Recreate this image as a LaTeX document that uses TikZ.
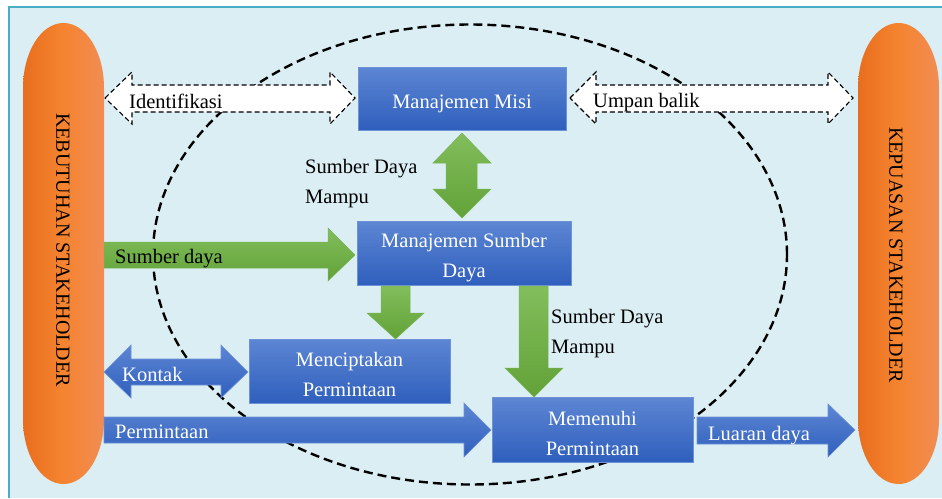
\documentclass[tikz,border=0pt]{standalone}
\usepackage{fontspec}
\setmainfont{Liberation Serif}
\definecolor{bgc}{RGB}{219,238,244}
\definecolor{bordc}{RGB}{75,172,198}
\definecolor{boxline}{RGB}{110,145,215}
\definecolor{bluetop}{RGB}{93,134,211}
\definecolor{bluebot}{RGB}{47,95,189}
\definecolor{greenline}{RGB}{120,180,85}
\definecolor{greentop}{RGB}{130,190,92}
\definecolor{greenbot}{RGB}{98,162,56}
\definecolor{orL}{RGB}{232,110,30}
\definecolor{orM}{RGB}{245,132,48}
\definecolor{orR}{RGB}{241,140,84}
\begin{document}
\begin{tikzpicture}[x=1pt,y=-1pt,
  txt/.style={font=\fontsize{20.5}{30}\selectfont, inner sep=0pt},
  vtxt/.style={font=\fontsize{20}{24}\selectfont, inner sep=0pt, rotate=-90},
  bluebox/.style={draw=boxline, line width=0.8pt,
     top color=bluetop, bottom color=bluebot, inner sep=0pt},
  boxtext/.style={text=white, inner sep=0pt, align=center, font=\fontsize{20.5}{30}\selectfont},
  bluearrow/.style={draw=boxline, line width=0.6pt, top color=bluetop, bottom color=bluebot},
  greenarrow/.style={draw=greenline, line width=0.5pt, top color=greentop, bottom color=greenbot},
  whitearrow/.style={draw=black, fill=white, line width=1.1pt, dash pattern=on 5pt off 3pt},
  oval/.style={left color=orL, right color=orR, middle color=orM},
]
\useasboundingbox (0,0) rectangle (942,498);
% background
\fill[white] (0,0) rectangle (942,498);
\fill[bgc] (9,7) rectangle (942,498);
\draw[bordc, line width=1.5pt] (9,498) -- (9,7) -- (942,7);

% dashed ellipse
\draw[black, line width=2.4pt, dash pattern=on 9pt off 5pt] (470,254.5) ellipse [x radius=317pt, y radius=230pt];

% stakeholder ovals
\shade[oval] (23,88) -- (23,419) .. controls (23,455) and (41,484) .. (63.5,484)
  .. controls (86,484) and (104,455) .. (104,419) -- (104,88)
  .. controls (104,52) and (86,23) .. (63.5,23) .. controls (41,23) and (23,52) .. (23,88) -- cycle;
\shade[oval] (858,88) -- (858,419) .. controls (858,455) and (876,484) .. (898.5,484)
  .. controls (921,484) and (939,455) .. (939,419) -- (939,88)
  .. controls (939,52) and (921,23) .. (898.5,23) .. controls (876,23) and (858,52) .. (858,88) -- cycle;
\node[vtxt] (kebutuhan) at (63,250) {KEBUTUHAN STAKEHOLDER};
\node[vtxt] (kepuasan) at (896,255) {KEPUASAN STAKEHOLDER};

% boxes
\node[bluebox, minimum width=208pt, minimum height=63pt] (misi) at (462,98.5) {};
\node[boxtext] (misitxt) at ([yshift=-5pt]misi.center) {Manajemen Misi};
\node[bluebox, minimum width=214pt, minimum height=64pt] (msd) at (464,253) {};
\node[boxtext] (msdtxt) at ([yshift=-5pt]msd.center) {Manajemen Sumber\\Daya};
\node[bluebox, minimum width=201pt, minimum height=64pt] (cipta) at (349.5,371) {};
\node[boxtext] (ciptatxt) at ([yshift=-3.5pt]cipta.center) {Menciptakan\\Permintaan};
\node[bluebox, minimum width=201pt, minimum height=65pt] (penuhi) at (592.5,429.5) {};
\node[boxtext] (penuhitxt) at ([yshift=-3.5pt]penuhi.center) {Memenuhi\\Permintaan};

% white dashed double arrows
\draw[whitearrow] (105,98) -- (132,72) -- (132,85) -- (330,85) -- (330,72) -- (355,98)
  -- (330,124) -- (330,112) -- (132,112) -- (132,124) -- cycle;
\node[txt, anchor=base west] (ident) at (129,108) {Identifikasi};
\draw[whitearrow] (570,98) -- (596,72) -- (596,85) -- (828,85) -- (828,72) -- (853,98)
  -- (828,124) -- (828,112) -- (596,112) -- (596,124) -- cycle;
\node[txt, anchor=base west] (umpan) at (593,107) {Umpan balik};

% green arrows
\shade[greenarrow] (462,133) -- (491,163) -- (477,163) -- (477,189) -- (491,189) -- (462,218)
  -- (433,189) -- (446,189) -- (446,163) -- (433,163) -- cycle;
\node[txt, anchor=base west] (sdm1) at (305,173) {Sumber Daya};
\node[txt, anchor=base west] (sdm2) at (305,203) {Mampu};

\shade[greenarrow] (104,242) -- (328,242) -- (328,228) -- (355,255) -- (328,281) -- (328,268) -- (104,268) -- cycle;
\node[txt, anchor=base west] (sdaya) at (115,263) {Sumber daya};

\shade[greenarrow] (381,286) -- (410,286) -- (410,313) -- (424,313) -- (395.5,339) -- (367,313) -- (381,313) -- cycle;
\shade[greenarrow] (519,286) -- (548,286) -- (548,368) -- (563,368) -- (534,397) -- (505,368) -- (519,368) -- cycle;
\node[txt, anchor=base west] (sdm3) at (551,323) {Sumber Daya};
\node[txt, anchor=base west] (sdm4) at (551,353) {Mampu};

% blue arrows
\shade[bluearrow] (104,372) -- (131,345) -- (131,359) -- (221,359) -- (221,345) -- (248,372)
  -- (221,398) -- (221,385) -- (131,385) -- (131,398) -- cycle;
\node[txt, anchor=base west, text=white] (kontak) at (122,381) {Kontak};

\shade[bluearrow] (104,417) -- (464,417) -- (464,403) -- (491,430) -- (464,457) -- (464,443) -- (104,443) -- cycle;
\node[txt, anchor=base west, text=white] (minta) at (115,438) {Permintaan};

\shade[bluearrow] (697,417) -- (828,417) -- (828,404) -- (855,430) -- (828,457) -- (828,444) -- (697,444) -- cycle;
\node[txt, anchor=base west, text=white] (luaran) at (708,440) {Luaran daya};
\end{tikzpicture}
\end{document}
